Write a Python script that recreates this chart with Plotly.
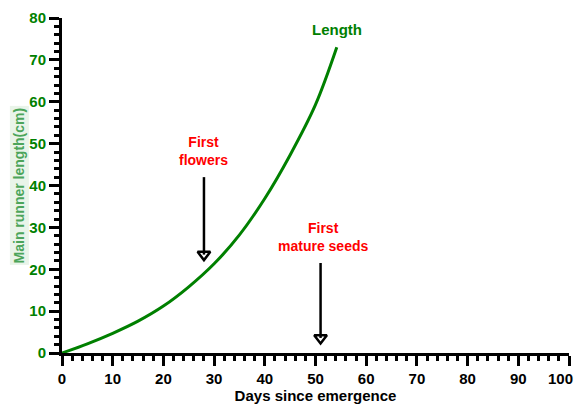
import plotly.graph_objects as go

# Courbe
days = [0, 5, 10, 15, 20, 25, 30, 35, 40, 45, 50, 54.2]
length_cm = [0, 2.2, 4.7, 7.6, 11.2, 15.8, 21.3, 28.2, 36.9, 47.3, 59.3, 73.0]

# Repères
flowers_day = 28
seeds_day = 51
x_ticks = list(range(0, 101, 10))
x_labels = [str(v) for v in x_ticks]
y_ticks = list(range(0, 81, 10))

green = "#008000"
red = "#ff0000"
font = "Liberation Sans, Arial, sans-serif"

fig = go.Figure()

fig.add_trace(go.Scatter(
    x=days, y=length_cm, mode="lines",
    line=dict(color=green, width=3, shape="spline", smoothing=1),
    hoverinfo="skip", showlegend=False
))

# Flèches
for d, y0, y1 in [(flowers_day, 42, 23.5), (seeds_day, 21.5, 3.6)]:
    fig.add_trace(go.Scatter(
        x=[d, d], y=[y0, y1], mode="lines",
        line=dict(color="black", width=2.5),
        hoverinfo="skip", showlegend=False
    ))
    fig.add_trace(go.Scatter(
        x=[d], y=[y1], mode="markers",
        marker=dict(symbol="triangle-down-open", size=11, color="black",
                    line=dict(width=2.5, color="black")),
        hoverinfo="skip", showlegend=False
    ))

fig.add_annotation(x=54.2, y=77.3, text="<b>Length</b>", showarrow=False,
                   font=dict(color=green, size=15, family=font))
fig.add_annotation(x=flowers_day, y=48.2, text="<b>First<br>flowers</b>", showarrow=False,
                   font=dict(color=red, size=14, family=font))
fig.add_annotation(x=seeds_day + 0.5, y=27.7, text="<b>First<br>mature seeds</b>", showarrow=False,
                   font=dict(color=red, size=14, family=font))

# titre de l'axe y (fond vert pâle)
fig.add_annotation(xref="paper", yref="paper", x=-0.085, y=0.5, xanchor="center",
                   yanchor="middle", textangle=-90,
                   text="<b>Main runner length(cm)</b>", showarrow=False,
                   bgcolor="#e9f4e9", borderpad=1,
                   font=dict(color="#4ca55a", size=14, family=font))

# dernier label de l'axe x, décalé pour rester visible
fig.add_annotation(x=x_ticks[-1], y=0, yanchor="top", xanchor="right", xshift=6, yshift=-15,
                   text="<b>" + x_labels[-1] + "</b>", showarrow=False,
                   font=dict(color="black", size=15, family=font))
x_labels[-1] = ""

# la page ajoute 8 px de marge autour du graphique
fig.update_layout(
    width=576, height=398,
    margin=dict(l=54, r=15, t=10, b=53),
    plot_bgcolor="white", paper_bgcolor="white",
    font=dict(family=font),
    xaxis=dict(
        range=[0, 100], tickvals=x_ticks, ticktext=x_labels, showgrid=False, zeroline=False,
        showline=True, linecolor="black", linewidth=3, automargin=False,
        ticks="outside", ticklen=10, tickwidth=3, tickcolor="black",
        minor=dict(dtick=2, ticks="outside", ticklen=5, tickwidth=2.5, tickcolor="black"),
        tickfont=dict(size=15, color="black", family=font, weight="bold"),
        title=dict(text="<b>Days since emergence</b>", font=dict(size=15, color="black"), standoff=4),
    ),
    yaxis=dict(
        range=[0, 80], tickvals=y_ticks, showgrid=False, zeroline=False,
        showline=True, linecolor="black", linewidth=3, automargin=False,
        ticks="outside", ticklen=10, tickwidth=3, tickcolor="black",
        minor=dict(dtick=2, ticks="outside", ticklen=5, tickwidth=2.5, tickcolor="black"),
        tickfont=dict(size=15, color=green, family=font, weight="bold"),
    ),
)

fig.write_html("out.html")
